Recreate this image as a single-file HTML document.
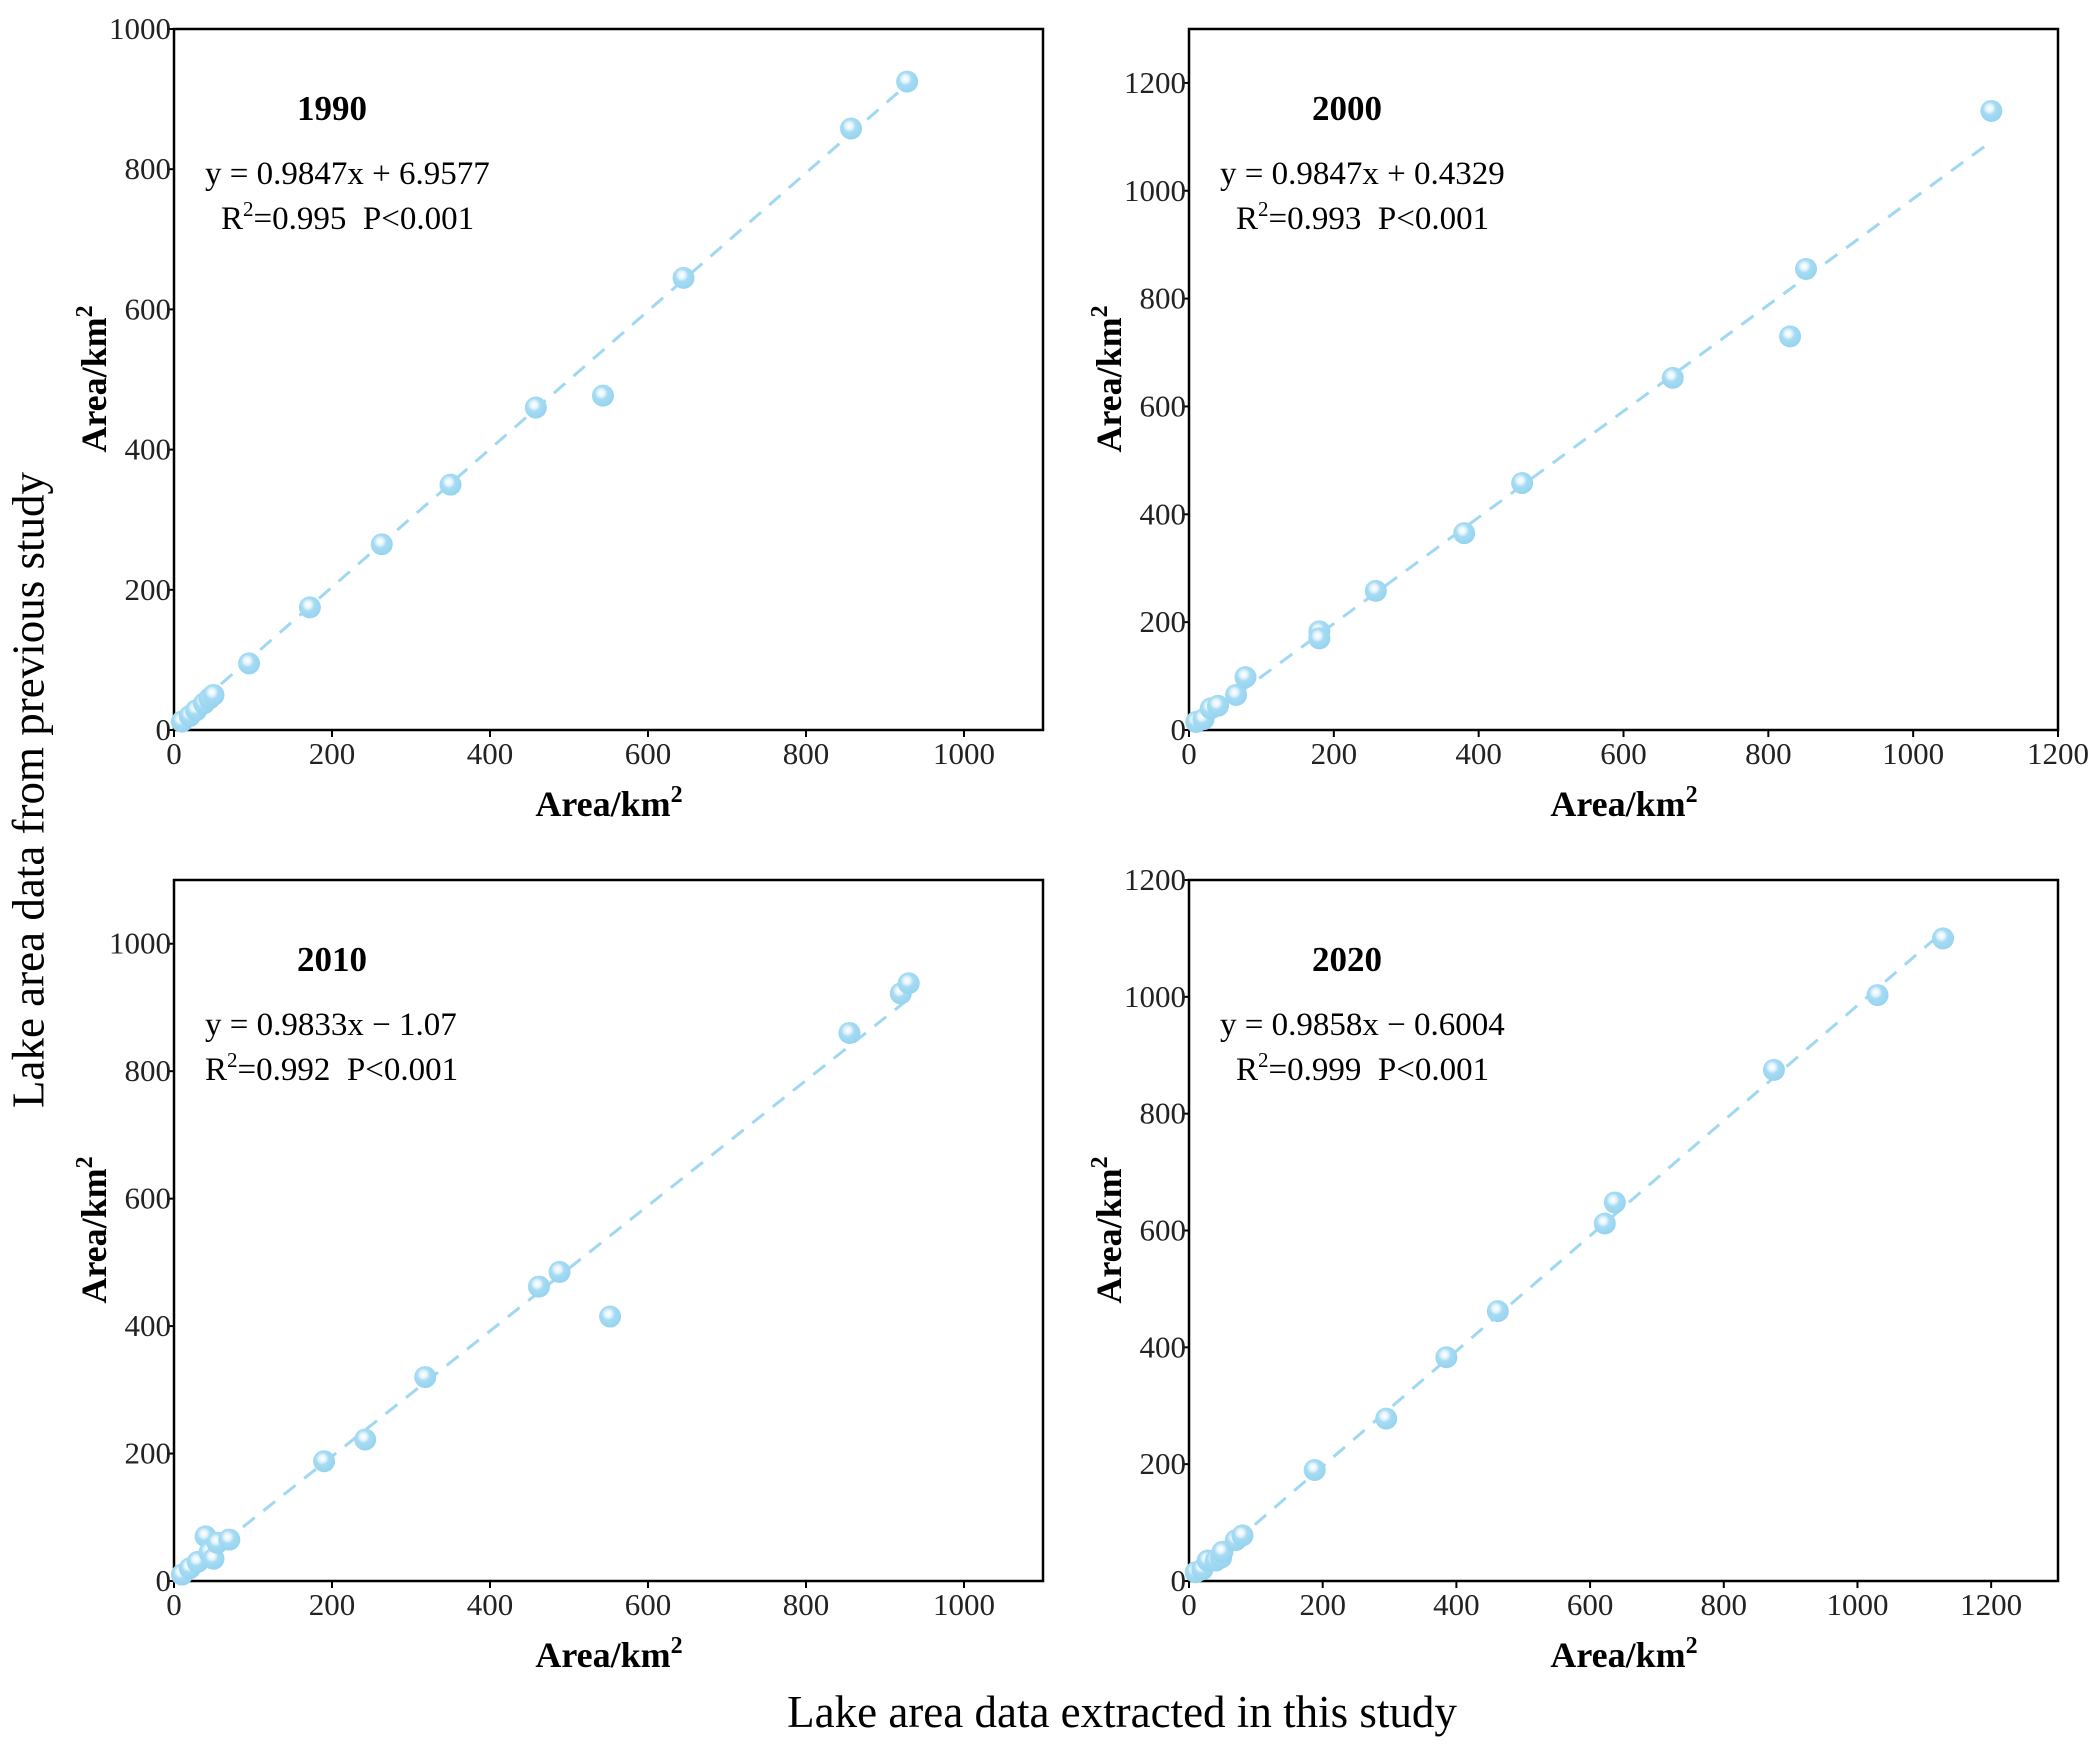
<!DOCTYPE html>
<html><head><meta charset="utf-8"><style>
html,body{margin:0;padding:0;background:#fff;}
svg{display:block;font-family:"Liberation Serif",serif;}
</style></head><body>
<svg id="fig" width="2100" height="1755" viewBox="0 0 2100 1755" xmlns="http://www.w3.org/2000/svg">
<defs>
<radialGradient id="ball" cx="0.42" cy="0.38" r="0.65">
<stop offset="0" stop-color="#ffffff"/><stop offset="0.25" stop-color="#e4f4fc"/><stop offset="0.45" stop-color="#a6dbf3"/><stop offset="1" stop-color="#95d3ef"/>
</radialGradient>
</defs>
<text x="33" y="790" font-size="45" text-anchor="middle" transform="rotate(-90 33 790)" dominant-baseline="middle">Lake area data from previous study</text>
<text x="1122" y="1727" font-size="45" text-anchor="middle">Lake area data extracted in this study</text>
</svg>
<script>
const panel1X=[10,20,28,38,45,50,95,172,263,350,458,543,645,857,928];
const panel1Y=[12,20,28,38,45,50,95,175,265,350,460,477,645,858,925];
const panel2X=[10,20,30,40,65,78,180,180,258,380,460,668,830,852,1108];
const panel2Y=[15,20,40,45,65,98,183,170,258,365,458,653,730,855,1148];
const panel3X=[10,20,30,40,45,50,55,70,190,242,318,462,488,552,855,920,930];
const panel3Y=[10,20,30,70,45,35,60,65,188,222,320,462,485,415,860,922,938];
const panel4X=[10,20,28,40,48,50,70,80,188,295,385,462,622,637,875,1030,1128];
const panel4Y=[15,20,35,35,40,50,70,78,190,278,383,462,612,648,875,1003,1100];
const years=["1990","2000","2010","2020"];
const slopes=[0.9847,0.9847,0.9833,0.9858];
const intercepts=[6.9577,0.4329,-1.07,-0.6004];
const eqTexts=["y = 0.9847x + 6.9577","y = 0.9847x + 0.4329","y = 0.9833x \u2212 1.07","y = 0.9858x \u2212 0.6004"];
const r2Texts=["0.995","0.993","0.992","0.999"];
const xMaxes=[1100,1200,1100,1300];
const yMaxes=[1000,1300,1100,1200];
const xTicks1=[0,200,400,600,800,1000];
const xTicks2=[0,200,400,600,800,1000,1200];
const yTicks1=[0,200,400,600,800,1000];
const yTicks2=[0,200,400,600,800,1000,1200];

const NS="http://www.w3.org/2000/svg";
const svg=document.getElementById('fig');
function mk(tag,attrs,parent){const e=document.createElementNS(NS,tag);for(const k in attrs)e.setAttribute(k,attrs[k]);(parent||svg).appendChild(e);return e;}
const boxes=[{L:174,T:29},{L:1189,T:29},{L:174,T:880},{L:1189,T:880}];
const W=869,H=701;
const datasX=[panel1X,panel2X,panel3X,panel4X];
const datasY=[panel1Y,panel2Y,panel3Y,panel4Y];
const xt=[xTicks1,xTicks2,xTicks1,xTicks2];
const yt=[yTicks1,yTicks2,yTicks1,yTicks2];
const eqX=[205,1220,205,1220], r2X=[221,1236,205,1236];
for(let p=0;p<4;p++){
  const b=boxes[p];
  const sx=v=>b.L+v/xMaxes[p]*W;
  const sy=v=>b.T+H-v/yMaxes[p]*H;
  const g=mk('g',{});
  
  
  xt[p].forEach(v=>{
    const t=mk('line',{x1:sx(v),x2:sx(v),y1:b.T+H,y2:b.T+H+7,stroke:'#000','stroke-width':2},g);
    
    
    const l=mk('text',{x:sx(v),y:b.T+H+34,'font-size':31,'text-anchor':'middle',fill:'#222'},g);
    l.textContent=v;
    
    
  });
  yt[p].forEach(v=>{
    if(v>yMaxes[p])return;
    const t=mk('line',{x1:b.L-7,x2:b.L,y1:sy(v),y2:sy(v),stroke:'#000','stroke-width':2},g);
    
    
    const l=mk('text',{x:b.L-3,y:sy(v)+10,'font-size':31,'text-anchor':'end',fill:'#222'},g);
    l.textContent=v;
    
    
  });
  const r=mk('rect',{x:b.L,y:b.T,width:W,height:H,fill:'none',stroke:'#000','stroke-width':2.5},g);
  
  
  const xs=datasX[p];
  const x0=Math.min(...xs),x1=Math.max(...xs);
  const ln=mk('line',{x1:sx(x0),y1:sy(slopes[p]*x0+intercepts[p]),x2:sx(x1),y2:sy(slopes[p]*x1+intercepts[p]),stroke:'#9fd8f2','stroke-width':3,'stroke-dasharray':'15 11'},g);
  
  
  xs.forEach((v,i)=>{
    const c=mk('circle',{cx:sx(v),cy:sy(datasY[p][i]),r:11,fill:'url(#ball)'},g);
    
    
  });
  const yr=mk('text',{x:b.L+158,y:b.T+91,'font-size':35,'font-weight':'bold','text-anchor':'middle'},g);
  yr.textContent=years[p];
  
  
  const eq=mk('text',{x:eqX[p],y:b.T+155,'font-size':33},g);
  eq.textContent=eqTexts[p];
  
  
  const r2=mk('text',{x:r2X[p],y:b.T+200,'font-size':33},g);
  r2.innerHTML='R<tspan dy="-13" font-size="21">2</tspan><tspan dy="13">='+r2Texts[p]+'&#160;&#160;P&lt;0.001</tspan>';
  
  
  const xl=mk('text',{x:b.L+435,y:b.T+H+86,'font-size':36,'font-weight':'bold','text-anchor':'middle'},g);
  xl.innerHTML='Area/km<tspan dy="-14" font-size="24">2</tspan>';
  
  
  const cy=b.T+350,cx=b.L-68;
  const yl=mk('text',{x:cx,y:cy,'font-size':36,'font-weight':'bold','text-anchor':'middle',transform:'rotate(-90 '+cx+' '+cy+')'},g);
  yl.innerHTML='Area/km<tspan dy="-14" font-size="24">2</tspan>';
  
  
}
</script>
</body></html>
